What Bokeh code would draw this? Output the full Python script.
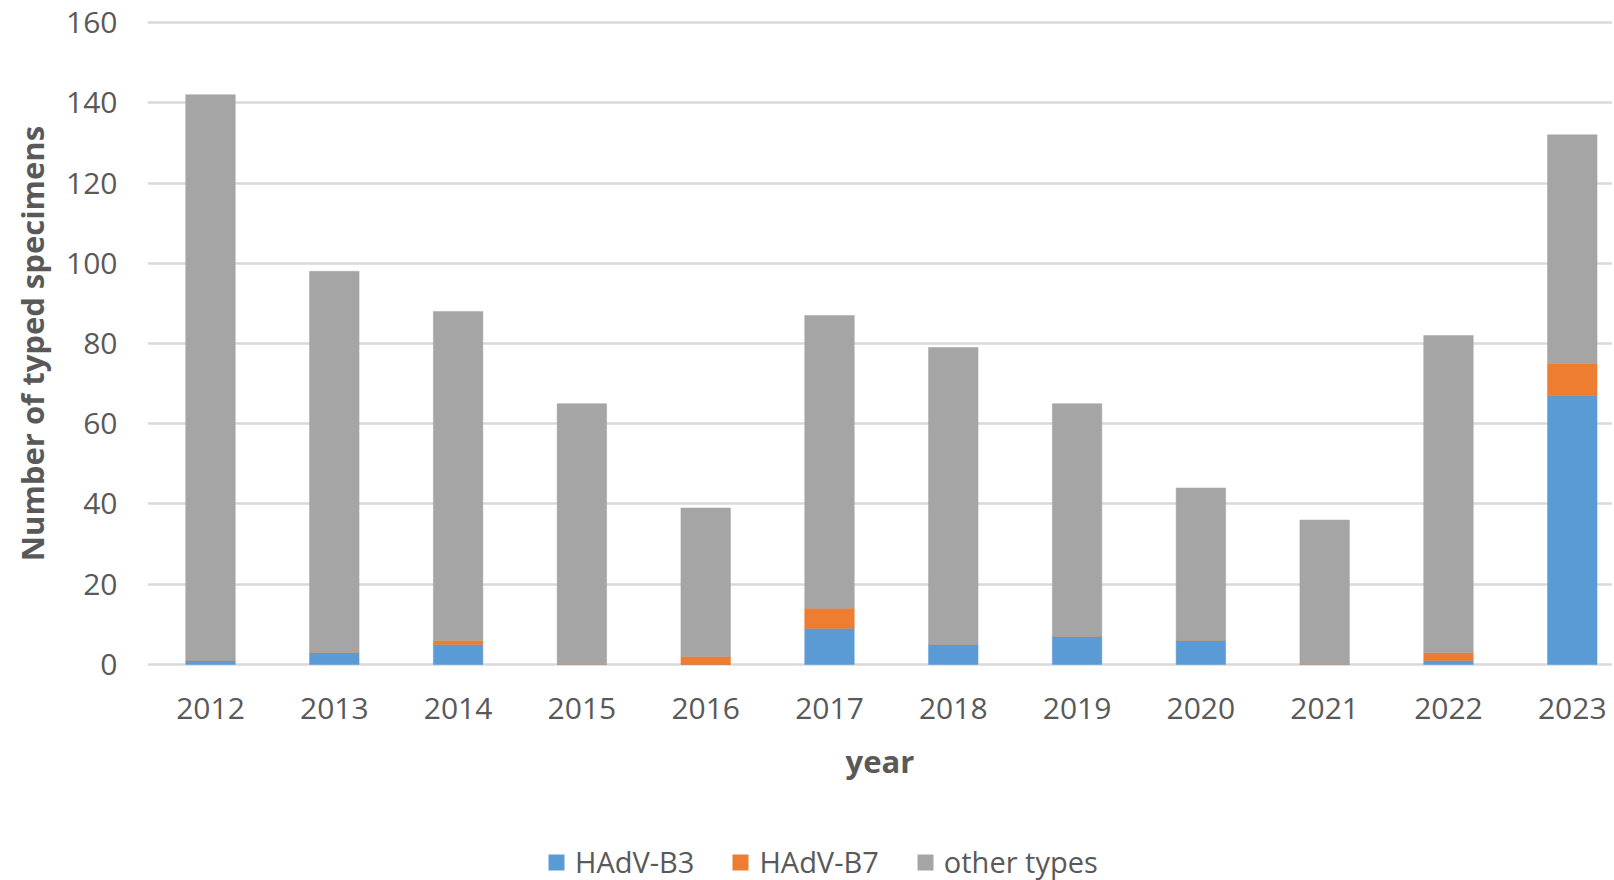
from bokeh.plotting import figure
from bokeh.layouts import column
from bokeh.models import ColumnDataSource, Range1d, FixedTicker, Legend, LegendItem
from bokeh.embed import file_html
from bokeh.resources import INLINE

years = ["2012", "2013", "2014", "2015", "2016", "2017", "2018", "2019", "2020", "2021", "2022", "2023"]
hadv_b3 = [1, 3, 5, 0, 0, 9, 5, 7, 6, 0, 1, 67]
hadv_b7 = [0, 0, 1, 0, 2, 5, 0, 0, 0, 0, 2, 8]
other_types = [141, 95, 82, 65, 37, 73, 74, 58, 38, 36, 79, 57]
y_ticks = [0, 20, 40, 60, 80, 100, 120, 140, 160]

series = ["HAdV-B3", "HAdV-B7", "other types"]
colors = ["#5B9BD5", "#ED7D31", "#A5A5A5"]

xs = list(range(len(years)))
src = ColumnDataSource(data={"x": xs, "HAdV-B3": hadv_b3, "HAdV-B7": hadv_b7, "other types": other_types})

FONT = "Open Sans"
TXT = "#595959"

p = figure(width=1612, height=820, output_backend="svg", toolbar_location=None,
           x_range=Range1d(-0.509, 11.325), y_range=Range1d(-0.5, 160.5),
           min_border_left=147, min_border_right=0, min_border_top=20, min_border_bottom=154)
p.outline_line_color = None
p.background_fill_color = "white"
p.border_fill_color = "white"

rs = p.vbar_stack(series, x="x", width=0.4, source=src, color=colors, line_color=colors, line_width=0.5)

p.xgrid.grid_line_color = None
p.ygrid.grid_line_color = "#D9D9D9"
p.ygrid.grid_line_width = 2.5

p.yaxis.ticker = FixedTicker(ticks=y_ticks)
p.xaxis.ticker = FixedTicker(ticks=xs)
p.xaxis.major_label_overrides = {i: y for i, y in enumerate(years)}

for ax in (p.xaxis[0], p.yaxis[0]):
    ax.axis_line_color = None
    ax.major_tick_line_color = None
    ax.minor_tick_line_color = None
    ax.major_tick_out = 0
    ax.major_tick_in = 0
    ax.major_label_text_font = FONT
    ax.major_label_text_font_size = "30px"
    ax.major_label_text_color = TXT
    ax.axis_label_text_font = FONT
    ax.axis_label_text_font_size = "31px"
    ax.axis_label_text_font_style = "bold"
    ax.axis_label_text_color = TXT

p.yaxis.major_label_standoff = 30
p.xaxis.major_label_standoff = 31
p.xaxis.axis_label = "year"
p.yaxis.axis_label = "Number of typed specimens"
p.xaxis.axis_label_standoff = 18
p.yaxis.axis_label_standoff = 10

# legend strip below the chart (zero-height legend proxies outside the visible range)
p2 = figure(width=1612, height=60, output_backend="svg", toolbar_location=None,
            x_axis_type=None, y_axis_type=None,
            x_range=Range1d(0, 1), y_range=Range1d(0, 1),
            min_border_left=0, min_border_right=0, min_border_top=0, min_border_bottom=0)
p2.outline_line_color = None
p2.xgrid.visible = False
p2.ygrid.visible = False
legend_renderers = [p2.vbar(x=[-5], top=[0], width=0.4, fill_color=c, line_color=None) for c in colors]

legend = Legend(items=[LegendItem(label=s, renderers=[r]) for s, r in zip(series, legend_renderers)],
                orientation="horizontal", location=(399, -1))
legend.padding = 0
legend.margin = 0
legend.spacing = 36
legend.label_standoff = 9
legend.glyph_width = 20
legend.glyph_height = 20
legend.label_text_font = FONT
legend.label_text_font_size = "29px"
legend.label_text_color = TXT
legend.border_line_color = None
legend.background_fill_alpha = 0
p2.add_layout(legend, "center")

layout = column(p, p2, spacing=0)
open("out.html", "w").write(file_html(layout, INLINE))
